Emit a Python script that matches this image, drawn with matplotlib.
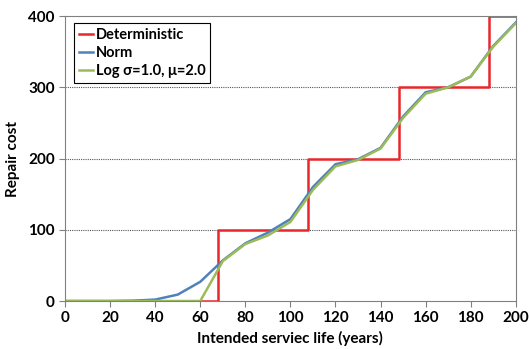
import matplotlib
matplotlib.use('Agg')
import matplotlib.pyplot as plt

plt.rcParams['font.family'] = ['Lato', 'DejaVu Sans']
plt.rcParams['font.weight'] = 'bold'

# deterministic step
det_x = [0, 68, 68, 108, 108, 148, 148, 188, 188, 200]
det_y = [0, 0, 100, 100, 200, 200, 300, 300, 400, 400]

years = [0, 10, 20, 30, 40, 50, 60, 70, 80, 90, 100, 110, 120, 130, 140, 150, 160, 170, 180, 190, 200]
norm = [0, 0, 0, 0.5, 2, 9, 27, 57, 81, 96, 115, 160, 192, 199, 215, 259, 293, 300, 315, 358, 391]
lognorm = [0, 0, 0, 0, 0, 0, 0, 56, 80, 92, 111, 156, 189, 198, 214, 257, 291, 300, 315, 357, 390]

fig = plt.figure(figsize=(5.29, 3.49), dpi=100)
ax = fig.add_axes([0.123, 0.1375, 0.852, 0.8165])

ax.plot(det_x, det_y, color='#E8272B', lw=1.8, label='Deterministic')
ax.plot(years, norm, color='#4F81BD', lw=1.8, label='Norm')
ax.plot(years, lognorm, color='#9BBB59', lw=1.8, label='Log \u03c3=1.0, \u03bc=2.0')

ax.set_xlim(0, 200)
ax.set_ylim(0, 400)
ax.set_xticks(range(0, 201, 20))
ax.set_yticks(range(0, 401, 100))
for y in (100, 200, 300):
    ax.axhline(y, color='#555555', lw=0.8, ls=(0, (1, 1)), zorder=0)

for s in ax.spines.values():
    s.set_color('#808080')
ax.tick_params(axis='both', colors='#808080', labelcolor='black', labelsize=11, length=4)
ax.set_xlabel('Intended serviec life (years)', fontsize=11, fontweight='bold', labelpad=4)
ax.set_ylabel('Repair cost', fontsize=11, fontweight='bold', labelpad=6)

leg = ax.legend(loc='upper left', bbox_to_anchor=(0.004, 1.0), fontsize=10.5, handlelength=1.0,
                handletextpad=0.2, borderpad=0.3, labelspacing=0.3, fancybox=False,
                framealpha=1, edgecolor='black')
leg.get_frame().set_linewidth(0.8)

fig.savefig('out.png', dpi=100)
